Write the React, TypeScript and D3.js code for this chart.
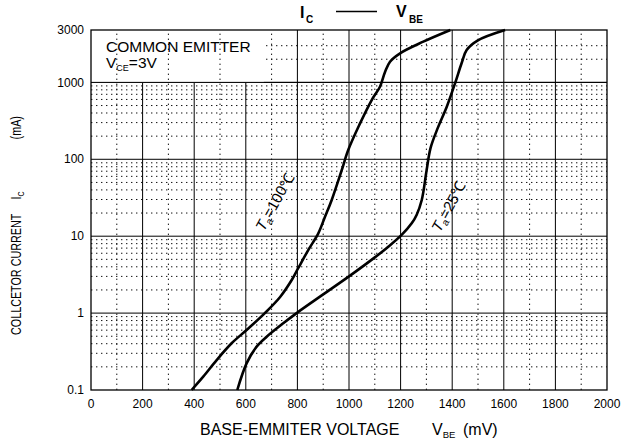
import React from 'react';
import * as d3 from 'd3';

// chart values
const xTicks = [0, 200, 400, 600, 800, 1000, 1200, 1400, 1600, 1800, 2000];
const yTicks = [0.1, 1, 10, 100, 1000];
const yTopLabel = '3000';
const yMax = 4800; // frame top as drawn in the datasheet
const topMinor = [2000, 3000];

// IC (mA) vs VBE (mV)
const ta100: [number, number][] = [
	[390, 0.1], [435, 0.149], [487, 0.245], [545, 0.405], [603, 0.603], [674, 1.0],
	[733, 1.62], [778, 2.69], [803, 3.83], [842, 6.6], [881, 10.9], [907, 17.9],
	[933, 29.6], [972, 72.6], [997, 132], [1040, 280], [1088, 590], [1120, 879],
	[1140, 1377], [1159, 1858], [1198, 2390], [1288, 3383], [1393, 4800],
];
const ta25: [number, number][] = [
	[567, 0.1], [603, 0.222], [642, 0.366], [681, 0.493], [745, 0.736], [797, 1.0],
	[900, 1.75], [1000, 3.0], [1100, 5.3], [1150, 7.2], [1204, 10.4],
	[1243, 14.7], [1262, 18.9], [1282, 29.6], [1301, 72.6], [1316, 140], [1345, 260],
	[1379, 483], [1411, 973], [1437, 1800], [1456, 2638], [1498, 3500], [1605, 4800],
];

const width = 622;
const height = 443;
const margin = { top: 30, right: 15, bottom: 53, left: 91 };
const font = 'Liberation Sans, Arial, sans-serif';

const App: React.FC = () => {
	const x = d3.scaleLinear().domain([0, 2000]).range([margin.left, width - margin.right]);
	const y = d3.scaleLog().domain([0.1, yMax]).range([height - margin.bottom, margin.top]);
	const [x0, x1] = x.range();
	const [y0, y1] = y.range();

	const line = d3
		.line<[number, number]>()
		.x((d) => x(d[0]))
		.y((d) => y(d[1]))
		.curve(d3.curveCatmullRom.alpha(0.5));

	const majorX = d3.range(200, 2000, 200);
	const minorX = d3.range(100, 2000, 200);
	const majorY = yTicks.slice(1);
	const minorY: number[] = [];
	yTicks.slice(0, 4).forEach((d) => {
		for (let k = 2; k <= 9; k++) minorY.push(d * k);
	});
	minorY.push(...topMinor);

	const dots = { stroke: '#111', strokeWidth: 1, strokeDasharray: '1.4 3.6' };

	return (
		<svg
			width={width}
			height={height}
			style={{ position: 'absolute', left: 0, top: 0, fontFamily: font }}
		>
			<rect width={width} height={height} fill='white' />
			<g>
				{minorY.map((d) => (
					<line key={'my' + d} x1={x0} x2={x1} y1={y(d)} y2={y(d)} {...dots} />
				))}
				{majorY.map((d) => (
					<line key={'My' + d} x1={x0} x2={x1} y1={y(d)} y2={y(d)} stroke='#000' strokeWidth={1} />
				))}
				{majorX.map((d) => (
					<line key={'Mx' + d} x1={x(d)} x2={x(d)} y1={y0} y2={y1} stroke='#000' strokeWidth={1} />
				))}
			</g>
			{/* condition box */}
			<rect x={x0} y={y1} width={x(670) - x0} height={y(1000) - y1} fill='white' />
			<g>
				{minorX.map((d) => (
					<line key={'mx' + d} x1={x(d)} x2={x(d)} y1={y0} y2={y1} {...dots} />
				))}
			</g>
			<line x1={x0} x2={x1} y1={y(1000)} y2={y(1000)} stroke='#000' strokeWidth={1} />
			<rect x={x0} y={y1} width={x1 - x0} height={y0 - y1} fill='none' stroke='#000' strokeWidth={1.3} />

			<text x={106} y={52} fontSize={15.5}>COMMON EMITTER</text>
			<text x={106} y={68} fontSize={15.5}>
				V<tspan fontSize={9} dy={3}>CE</tspan>
				<tspan dy={-3}>=3V</tspan>
			</text>

			<path d={line(ta100) ?? ''} fill='none' stroke='#000' strokeWidth={2.6} />
			<path d={line(ta25) ?? ''} fill='none' stroke='#000' strokeWidth={2.6} />

			<text transform='translate(264,232) rotate(-61)' fontSize={15}>
				<tspan fontStyle='italic'>T</tspan>
				<tspan fontSize={10} dy={3}>a</tspan>
				<tspan dy={-3}>=100℃</tspan>
			</text>
			<text transform='translate(440,233) rotate(-61)' fontSize={15}>
				<tspan fontStyle='italic'>T</tspan>
				<tspan fontSize={10} dy={3}>a</tspan>
				<tspan dy={-3}>=25℃</tspan>
			</text>

			{/* axes labels */}
			<g fontSize={12}>
				{xTicks.map((d) => (
					<text key={'xt' + d} x={x(d)} y={y0 + 18} textAnchor='middle'>{d}</text>
				))}
				{yTicks.map((d) => (
					<text key={'yt' + d} x={x0 - 7} y={y(d)} dy='0.35em' textAnchor='end'>{d}</text>
				))}
				<text x={x0 - 7} y={y1} dy='0.35em' textAnchor='end'>{yTopLabel}</text>
			</g>

			<text x={200} y={435} fontSize={16}>
				BASE-EMMITER VOLTAGE
				<tspan x={432}>V</tspan>
				<tspan fontSize={9.5} dy={3}>BE</tspan>
				<tspan x={463} dy={-3}>(mV)</tspan>
			</text>
			<g transform='translate(21,335) rotate(-90) scale(0.77,1)' fontSize={14}>
				<text x={0} y={0}>COLLCETOR CURRENT</text>
				<text x={176} y={0}>
					I<tspan fontSize={9} dy={3}>C</tspan>
				</text>
				<text x={254} y={0}>(mA)</text>
			</g>

			{/* title */}
			<g fontWeight='bold'>
				<text x={300} y={18} fontSize={16}>I</text>
				<text x={306} y={23} fontSize={10}>C</text>
				<line x1={336} x2={377} y1={11.5} y2={11.5} stroke='#000' strokeWidth={1.5} />
				<text x={396} y={17} fontSize={16}>V</text>
				<text x={409} y={23} fontSize={10}>BE</text>
			</g>
		</svg>
	);
};

export default App;
